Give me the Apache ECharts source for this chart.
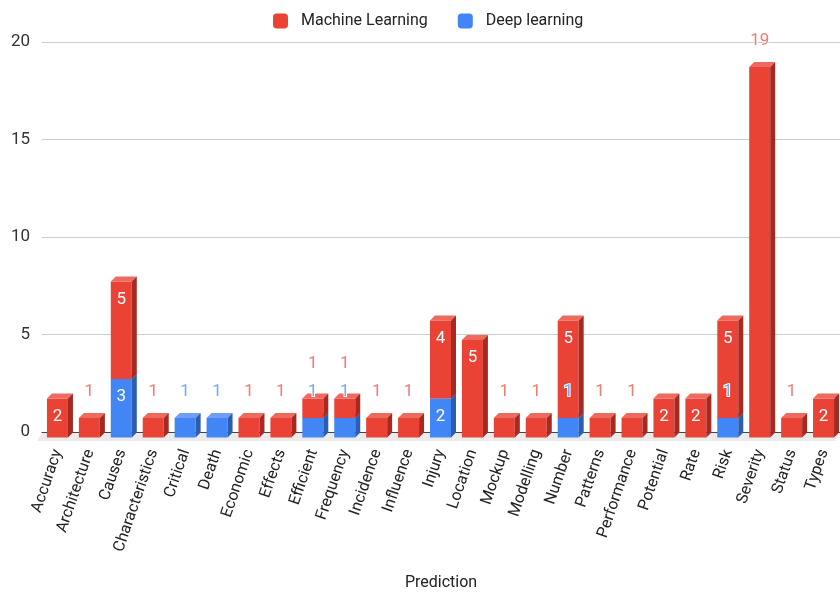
<!DOCTYPE html>
<html lang="en">
<head>
    <meta charset="UTF-8">
    <title>Prediction chart</title>
    <script src="https://cdn.jsdelivr.net/npm/echarts@6/dist/echarts.min.js"></script>
</head>
<body style="margin:0">
    <div id="chart" style="width:840px;height:594px"></div>
    <script>
        var categories = ['Accuracy', 'Architecture', 'Causes', 'Characteristics', 'Critical', 'Death',
            'Economic', 'Effects', 'Efficient', 'Frequency', 'Incidence', 'Influence', 'Injury',
            'Location', 'Mockup', 'Modelling', 'Number', 'Patterns', 'Performance', 'Potential',
            'Rate', 'Risk', 'Severity', 'Status', 'Types'];
        var machineLearning = [2, 1, 5, 1, 0, 0, 1, 1, 1, 1, 1, 1, 4, 5, 1, 1, 5, 1, 1, 2, 2, 5, 19, 1, 2];
        var deepLearning = [0, 0, 3, 0, 1, 1, 0, 0, 1, 1, 0, 0, 2, 0, 0, 0, 1, 0, 0, 0, 0, 1, 0, 0, 0];
        var yTicks = [0, 5, 10, 15, 20];

        var maxML = Math.max.apply(null, machineLearning);

        // 3d box look
        var FACE_W = 21, DEPTH_X = 5, DEPTH_Y = 5, SHIFT = 5.5;

        var red = { front: '#EA4335', top: '#EE6A5F', side: '#A52B22', label: '#F07B72' };
        var blue = { front: '#4285F4', top: '#6E9FF6', side: '#2D5DAE', label: '#74A6F7' };

        function isOutside(v) {
            return v === 1 || v === maxML;
        }

        function makeRender(c, isTop) {
            return function(params, api) {
                var i = api.value(0), v = api.value(1), base = api.value(2);
                var p0 = api.coord([i, base]);
                var children = [];
                if (!isTop) {
                    // grey floor under the band
                    var bw = api.size([1, 0])[0];
                    var fl = p0[0] - bw / 2, fr = p0[0] + bw / 2, fy = p0[1] + 1;
                    children.push({
                        type: 'polygon',
                        shape: { points: [[fl, fy], [fr, fy], [fr - 5, fy + 8], [fl - 5, fy + 8]] },
                        style: { fill: '#ebebeb' }
                    });
                }
                if (v) {
                    var p1 = api.coord([i, base + v]);
                    var x0 = p0[0] - 11;
                    var yB = p0[1] + SHIFT;
                    var yT = p1[1] + SHIFT;
                    children.push({
                        type: 'rect',
                        shape: { x: x0, y: yT, width: FACE_W, height: yB - yT },
                        style: { fill: c.front }
                    }, {
                        type: 'polygon',
                        shape: { points: [[x0, yT], [x0 + DEPTH_X, yT - DEPTH_Y], [x0 + FACE_W + DEPTH_X, yT - DEPTH_Y], [x0 + FACE_W, yT]] },
                        style: { fill: c.top }
                    }, {
                        type: 'polygon',
                        shape: { points: [[x0 + FACE_W, yT], [x0 + FACE_W + DEPTH_X, yT - DEPTH_Y], [x0 + FACE_W + DEPTH_X, yB - DEPTH_Y], [x0 + FACE_W, yB]] },
                        style: { fill: c.side }
                    });
                    var cx = x0 + FACE_W / 2;
                    if (isOutside(v)) {
                        var lift = 21;
                        // push up when the segment under it is labelled outside too
                        if (isTop && base > 0 && isOutside(base)) lift = 29;
                        children.push({
                            type: 'text',
                            z2: 100,
                            style: {
                                text: String(v), x: cx, y: p1[1] - lift,
                                align: 'center', verticalAlign: 'middle',
                                fill: c.label, font: '17px Roboto',
                                stroke: '#fff', lineWidth: 2
                            }
                        });
                    } else {
                        children.push({
                            type: 'text',
                            z2: 100,
                            style: {
                                text: String(v), x: cx, y: yT + 18,
                                align: 'center', verticalAlign: 'middle',
                                fill: '#fff', font: '17px Roboto'
                            }
                        });
                    }
                }
                return { type: 'group', children: children };
            };
        }

        var dlData = deepLearning.map(function(v, i) { return [i, v, 0]; });
        var mlData = machineLearning.map(function(v, i) { return [i, v, deepLearning[i]]; });

        var chart = echarts.init(document.getElementById('chart'));
        var option = {
            animation: false,
            textStyle: { fontFamily: 'Roboto' },
            legend: {
                top: 8,
                left: 268,
                itemWidth: 15,
                itemHeight: 15,
                itemGap: 30,
                icon: 'roundRect',
                textStyle: { fontSize: 16, color: '#222', padding: [0, 0, 0, 8] },
                data: ['Machine Learning', 'Deep learning']
            },
            grid: { left: 42, right: 0, top: 42, bottom: 162, outerBoundsMode: 'none' },
            xAxis: {
                type: 'category',
                data: categories,
                axisTick: { show: false },
                axisLine: { lineStyle: { color: '#444' } },
                axisLabel: { rotate: 71, interval: 0, fontSize: 16, color: '#222', margin: 18 },
                name: 'Prediction',
                nameLocation: 'middle',
                nameGap: 143,
                nameTextStyle: { fontSize: 16, color: '#222' }
            },
            yAxis: {
                type: 'value',
                min: yTicks[0],
                max: yTicks[yTicks.length - 1],
                interval: 5,
                axisLabel: { fontSize: 17, color: '#333', margin: 12 },
                splitLine: { lineStyle: { color: '#ccc' } }
            },
            series: [{
                name: 'Deep learning',
                type: 'custom',
                itemStyle: { color: blue.front },
                encode: { x: 0, y: 1 },
                renderItem: makeRender(blue, false),
                data: dlData
            }, {
                name: 'Machine Learning',
                type: 'custom',
                itemStyle: { color: red.front },
                encode: { x: 0, y: 1 },
                renderItem: makeRender(red, true),
                data: mlData
            }]
        };
        chart.setOption(option);
    </script>
</body>
</html>
